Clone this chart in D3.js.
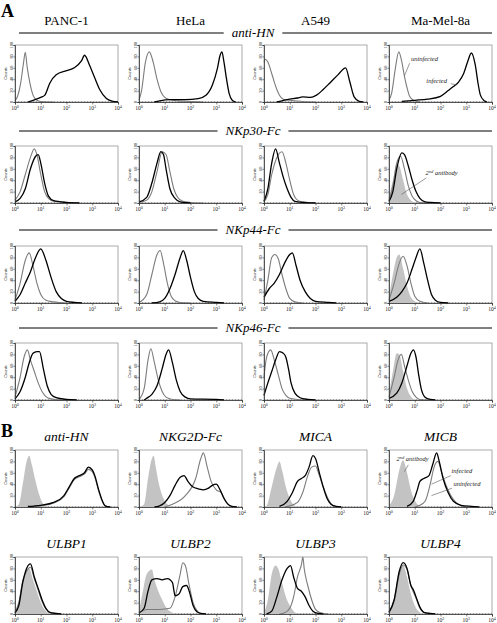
<!DOCTYPE html>
<html><head><meta charset="utf-8">
<script src="https://cdn.jsdelivr.net/npm/d3@7"></script>
<style>body{margin:0;background:#fff}svg{display:block}</style>
</head><body><svg id="c" width="497" height="623"></svg>
<script>
// ---------- labels ----------
const panelLetters = ["A", "B"];
const cellLines = ["PANC-1", "HeLa", "A549", "Ma-Mel-8a"];
const rowTitlesA = ["anti-HN", "NKp30-Fc", "NKp44-Fc", "NKp46-Fc"];
const titlesB1 = ["anti-HN", "NKG2D-Fc", "MICA", "MICB"];
const titlesB2 = ["ULBP1", "ULBP2", "ULBP3", "ULBP4"];
const yTicks = [0, 20, 40, 60, 80, 100];
const xTickExps = [0, 1, 2, 3, 4];

// ---------- data: [log10 fluorescence, counts] ----------
// Panel A, row 1: anti-HN
const antiHN_uninf = [
  [[0,2],[0.1,10],[0.22,33],[0.32,65],[0.4,87],[0.47,62],[0.58,33],[0.7,12],[0.85,3],[1.0,1],[1.5,0]],
  [[0,3],[0.1,20],[0.25,70],[0.4,88],[0.55,70],[0.7,40],[0.85,18],[1.0,8],[1.2,4],[1.5,2],[2,1],[2.5,0]],
  [[0,70],[0.05,75],[0.15,70],[0.3,50],[0.4,35],[0.5,22],[0.6,12],[0.75,5],[1.0,3],[1.5,1],[2,0]],
  [[0,3],[0.1,15],[0.25,60],[0.38,88],[0.5,70],[0.6,45],[0.7,25],[0.8,10],[0.95,3],[1.2,0]]
];
const antiHN_inf = [
  [[0.5,0],[0.7,3],[1.0,8],[1.16,12],[1.35,33],[1.6,48],[2.0,55],[2.3,60],[2.58,72],[2.7,82],[2.9,64],[3.1,42],[3.3,21],[3.55,6],[3.8,1],[4,0]],
  [[0.6,0],[0.8,2],[1.2,4],[1.8,4],[2.3,6],[2.6,12],[2.85,30],[3.05,60],[3.15,82],[3.22,88],[3.3,70],[3.4,40],[3.5,15],[3.62,3],[3.75,0]],
  [[0.5,0],[1.0,5],[1.3,7],[1.5,9],[1.8,8],[2.04,12],[2.3,22],[2.55,33],[2.88,48],[3.17,60],[3.33,36],[3.5,9],[3.7,1],[3.85,0]],
  [[0.5,1],[1.0,3],[1.5,5],[2.0,10],[2.3,20],[2.5,27],[2.7,35],[2.9,50],[3.05,70],[3.2,86],[3.35,65],[3.45,35],[3.55,12],[3.7,2],[3.8,0]]
];
const antiHN_2nd = [null, null, null, null];

// Panel A, row 2: NKp30-Fc
const nkp30_uninf = [
  [[0,5],[0.2,20],[0.4,50],[0.6,80],[0.75,95],[0.85,85],[1.0,50],[1.15,20],[1.3,8],[1.5,3],[2.0,1],[2.5,0]],
  [[0,1],[0.3,5],[0.5,20],[0.7,55],[0.9,90],[1.05,85],[1.2,55],[1.35,25],[1.5,10],[1.7,3],[2,1],[2.5,0]],
  [[0,2],[0.15,15],[0.3,50],[0.5,80],[0.7,90],[0.85,70],[1.0,40],[1.15,15],[1.3,5],[1.5,2],[2,0]],
  [[0,5],[0.15,30],[0.3,70],[0.45,82],[0.6,60],[0.75,30],[0.9,12],[1.05,4],[1.2,1],[1.5,0]]
];
const nkp30_inf = [
  [[0,2],[0.2,8],[0.4,25],[0.6,60],[0.8,82],[0.9,85],[1.0,70],[1.15,35],[1.3,12],[1.5,4],[2.0,1],[2.5,0]],
  [[0,2],[0.3,10],[0.5,35],[0.7,70],[0.85,90],[0.95,85],[1.05,60],[1.2,25],[1.4,8],[1.6,2],[2,0]],
  [[0,3],[0.15,25],[0.3,70],[0.45,95],[0.6,70],[0.75,45],[0.9,25],[1.05,10],[1.2,3],[1.5,1],[2,0]],
  [[0,3],[0.15,20],[0.3,60],[0.5,88],[0.6,85],[0.75,65],[0.9,40],[1.05,20],[1.2,8],[1.4,2],[1.6,1],[2,0]]
];
const nkp30_2nd = [null, null, null,
  [[0,10],[0.15,40],[0.3,68],[0.4,65],[0.55,40],[0.7,15],[0.85,5],[1.0,1],[1.2,0]]
];

// Panel A, row 3: NKp44-Fc
const nkp44_uninf = [
  [[0,5],[0.2,35],[0.4,75],[0.55,88],[0.7,65],[0.85,35],[1.0,15],[1.2,5],[1.5,2],[2,0]],
  [[0,1],[0.3,15],[0.5,50],[0.7,85],[0.82,92],[0.95,70],[1.1,35],[1.25,12],[1.4,4],[1.6,1],[2,0]],
  [[0,5],[0.15,40],[0.3,80],[0.42,85],[0.55,78],[0.7,50],[0.85,25],[1.0,8],[1.2,2],[1.5,0]],
  [[0,5],[0.2,35],[0.4,70],[0.55,82],[0.7,65],[0.85,35],[1.0,12],[1.2,3],[1.5,0]]
];
const nkp44_inf = [
  [[0,3],[0.2,15],[0.4,35],[0.6,55],[0.8,80],[1.0,95],[1.2,75],[1.4,45],[1.6,20],[1.8,8],[2.0,3],[2.3,1],[2.6,0]],
  [[0.5,0],[0.8,2],[1.0,8],[1.2,25],[1.4,50],[1.6,80],[1.72,92],[1.85,75],[2.0,45],[2.15,20],[2.3,8],[2.5,3],[3.0,1],[3.3,0]],
  [[0,10],[0.2,25],[0.4,35],[0.6,50],[0.8,70],[1.0,85],[1.1,88],[1.25,65],[1.4,40],[1.6,20],[1.8,8],[2.0,3],[2.5,1],[2.8,0]],
  [[0,3],[0.3,10],[0.5,20],[0.7,35],[0.9,60],[1.05,80],[1.2,95],[1.35,70],[1.5,40],[1.65,15],[1.8,5],[2.0,1],[2.3,0]]
];
const nkp44_2nd = [null, null, null,
  [[0,10],[0.15,50],[0.3,80],[0.4,85],[0.55,60],[0.7,30],[0.85,10],[1.0,3],[1.2,0]]
];

// Panel A, row 4: NKp46-Fc
const nkp46_uninf = [
  [[0,5],[0.2,40],[0.35,75],[0.48,88],[0.6,70],[0.75,50],[0.9,30],[1.05,15],[1.2,6],[1.4,2],[1.8,0]],
  [[0,1],[0.2,20],[0.35,70],[0.46,90],[0.6,65],[0.75,35],[0.9,15],[1.05,5],[1.3,1],[1.6,0]],
  [[0,40],[0.1,75],[0.26,88],[0.4,70],[0.55,45],[0.7,20],[0.85,8],[1.0,3],[1.3,1],[1.6,0]],
  [[0,5],[0.2,40],[0.35,70],[0.48,80],[0.6,60],[0.75,35],[0.9,15],[1.05,5],[1.2,1],[1.5,0]]
];
const nkp46_inf = [
  [[0,2],[0.2,15],[0.4,40],[0.55,65],[0.7,82],[0.85,85],[0.95,85],[1.1,55],[1.25,25],[1.4,10],[1.6,4],[2.0,1],[2.4,0]],
  [[0.2,0],[0.3,3],[0.5,10],[0.7,25],[0.9,55],[1.05,80],[1.15,88],[1.3,65],[1.45,35],[1.6,15],[1.8,5],[2.0,2],[3,1],[3.3,0]],
  [[0,8],[0.15,30],[0.3,50],[0.45,70],[0.6,85],[0.75,82],[0.85,75],[0.95,55],[1.05,30],[1.2,12],[1.4,4],[1.7,1],[2,0]],
  [[0,3],[0.3,12],[0.5,30],[0.7,60],[0.85,82],[0.95,88],[1.05,75],[1.15,45],[1.25,20],[1.4,5],[1.6,1],[1.8,0]]
];
const nkp46_2nd = [null, null, null,
  [[0,10],[0.15,50],[0.3,82],[0.4,80],[0.55,50],[0.7,20],[0.85,6],[1.0,1],[1.2,0]]
];

// Panel B, row 1: anti-HN, NKG2D-Fc, MICA, MICB
const b1_uninf = [
  [[0.5,0],[1.0,2],[1.5,7],[1.9,18],[2.1,33],[2.3,48],[2.5,53],[2.7,58],[2.85,66],[3.0,62],[3.1,52],[3.25,28],[3.4,9],[3.5,2],[3.7,0]],
  [[1.0,0],[1.3,5],[1.8,20],[2.2,50],[2.4,85],[2.5,95],[2.65,70],[2.8,45],[3.0,30],[3.2,25],[3.35,12],[3.5,3],[3.7,0]],
  [[0.8,0],[1.0,2],[1.3,8],[1.5,25],[1.7,55],[1.85,70],[2.0,72],[2.15,55],[2.3,35],[2.45,18],[2.6,6],[2.8,1],[3,0]],
  [[1.0,0],[1.2,3],[1.4,10],[1.6,40],[1.75,70],[1.9,80],[2.05,60],[2.2,40],[2.4,20],[2.6,8],[2.8,2],[3,0]]
];
const b1_inf = [
  [[0.5,1],[1.0,3],[1.5,8],[1.9,20],[2.1,35],[2.3,50],[2.5,55],[2.7,60],[2.85,70],[3.0,65],[3.1,55],[3.25,30],[3.4,10],[3.5,2],[3.7,0]],
  [[0.6,0],[0.8,2],[1.0,8],[1.2,20],[1.4,38],[1.6,52],[1.75,55],[1.9,45],[2.1,35],[2.3,32],[2.5,30],[2.7,33],[2.85,38],[3.0,40],[3.15,30],[3.3,15],[3.45,5],[3.6,1],[3.8,0]],
  [[0.6,1],[0.9,10],[1.1,25],[1.3,45],[1.45,50],[1.6,55],[1.75,70],[1.9,90],[2.0,85],[2.15,60],[2.3,35],[2.45,15],[2.6,5],[2.8,1],[3,0]],
  [[0.7,1],[0.94,10],[1.1,30],[1.2,45],[1.35,50],[1.55,55],[1.7,75],[1.85,95],[1.95,80],[2.1,50],[2.3,25],[2.5,10],[2.8,3],[3.2,1],[3.5,0]]
];
const b1_2nd = [
  [[0,0],[0.15,5],[0.3,40],[0.45,80],[0.55,90],[0.65,75],[0.8,45],[0.95,20],[1.1,5],[1.25,1],[1.4,0]],
  [[0,0],[0.2,5],[0.35,50],[0.5,85],[0.57,90],[0.65,70],[0.8,35],[0.95,15],[1.1,5],[1.3,1],[1.4,0]],
  [[0,0],[0.1,2],[0.3,35],[0.5,70],[0.6,80],[0.7,65],[0.85,35],[1.0,15],[1.15,4],[1.3,1],[1.4,0]],
  [[0,2],[0.2,20],[0.4,65],[0.55,82],[0.7,60],[0.85,30],[1.0,12],[1.15,3],[1.3,1],[1.4,0]]
];

// Panel B, row 2: ULBP1-4
const b2_uninf = [
  [[0,3],[0.15,20],[0.3,58],[0.45,75],[0.6,82],[0.75,62],[0.9,42],[1.05,22],[1.2,9],[1.4,2],[1.7,0]],
  [[0,2],[0.3,8],[0.8,8],[1.2,10],[1.4,30],[1.6,70],[1.7,90],[1.8,85],[1.95,50],[2.1,20],[2.25,6],[2.4,1],[2.6,0]],
  [[0.6,0],[0.8,2],[1.0,10],[1.15,30],[1.3,65],[1.46,88],[1.51,100],[1.56,80],[1.7,50],[1.85,25],[2.0,8],[2.2,2],[2.5,0]],
  [[0,3],[0.2,22],[0.4,70],[0.55,86],[0.7,78],[0.85,50],[0.95,38],[1.05,28],[1.2,10],[1.35,3],[1.6,0]]
];
const b2_inf = [
  [[0,2],[0.15,15],[0.3,55],[0.45,80],[0.6,88],[0.75,65],[0.9,45],[1.05,25],[1.2,10],[1.35,3],[1.6,1],[1.8,0]],
  [[0,2],[0.2,10],[0.35,40],[0.5,60],[0.7,62],[0.9,60],[1.1,62],[1.3,55],[1.4,32],[1.55,35],[1.7,48],[1.85,50],[1.95,40],[2.1,15],[2.25,4],[2.4,1],[2.6,0]],
  [[0.1,0],[0.3,5],[0.5,30],[0.7,60],[0.9,80],[1.03,85],[1.15,65],[1.3,45],[1.45,40],[1.6,30],[1.75,15],[1.9,5],[2.1,1],[2.3,0]],
  [[0,3],[0.2,25],[0.4,75],[0.55,90],[0.7,80],[0.85,50],[0.95,42],[1.05,30],[1.2,12],[1.35,3],[1.6,1],[1.8,0]]
];
const b2_2nd = [
  [[0,3],[0.15,25],[0.3,60],[0.45,78],[0.55,80],[0.7,60],[0.85,40],[1.0,20],[1.15,8],[1.3,2],[1.5,0]],
  [[0,5],[0.15,40],[0.3,70],[0.5,78],[0.6,60],[0.75,40],[0.9,25],[1.05,12],[1.2,5],[1.4,1],[1.6,0]],
  [[0,3],[0.15,25],[0.3,70],[0.45,85],[0.55,80],[0.7,55],[0.85,30],[1.0,15],[1.15,5],[1.3,1],[1.5,0]],
  [[0,5],[0.2,30],[0.4,78],[0.55,85],[0.7,65],[0.85,35],[1.0,15],[1.15,5],[1.3,1],[1.5,0]]
];

// annotations (data coordinates of the panel they sit in)
const notes = [
  {row: 0, col: 3, parts: [["uninfected"]], text: [0.85, 72], from: [0.8, 68], to: [0.6, 46]},
  {row: 0, col: 3, parts: [["infected"]], text: [1.45, 33], from: [2.4, 32], to: [2.65, 30]},
  {row: 1, col: 3, parts: [["2"], ["nd", true], [" antibody"]], text: [1.42, 50], from: [1.45, 44], to: [0.48, 15]},
  {row: 4, col: 3, parts: [["2"], ["nd", true], [" antibody"]], text: [0.29, 80], from: [0.75, 74], to: [0.6, 62]},
  {row: 4, col: 3, parts: [["infected"]], text: [2.43, 59], from: [2.4, 55], to: [1.65, 40]},
  {row: 4, col: 3, parts: [["uninfected"]], text: [2.5, 36], from: [2.45, 33], to: [1.65, 20]}
];

// ---------- layout ----------
const svg = d3.select("#c");
const colX = [15, 139, 264, 389];
const PW = 103, PH = 57;
const rowTop = [45, 146, 246, 343, 450, 557];
const lineYA = [33, 131, 230, 328];
const serif = "'Liberation Serif','Times New Roman',serif";

const rows = [
  [antiHN_uninf, antiHN_inf, antiHN_2nd],
  [nkp30_uninf, nkp30_inf, nkp30_2nd],
  [nkp44_uninf, nkp44_inf, nkp44_2nd],
  [nkp46_uninf, nkp46_inf, nkp46_2nd],
  [b1_uninf, b1_inf, b1_2nd],
  [b2_uninf, b2_inf, b2_2nd]
];

const x = d3.scaleLog().domain([1, 1e4]).range([0, PW]);
const y = d3.scaleLinear().domain([0, 100]).range([PH, 0]);
const fx = d => x(Math.pow(10, d[0]));
const fy = d => y(d[1]);
const lineGen = d3.line().x(fx).y(fy).curve(d3.curveMonotoneX);
const areaGen = d3.area().x(fx).y0(y(0)).y1(fy).curve(d3.curveMonotoneX);
const minorTicks = [];
for (let e = 0; e < 4; e++) for (let m = 1; m < 10; m++) minorTicks.push(m * Math.pow(10, e));
minorTicks.push(1e4);

rows.forEach((r, ri) => {
  const [uninf, inf, sec] = r;
  for (let ci = 0; ci < 4; ci++) {
    const g = svg.append("g").attr("transform", `translate(${colX[ci]},${rowTop[ri]})`);
    g.append("rect").attr("width", PW).attr("height", PH)
      .attr("fill", "none").attr("stroke", "#888").attr("stroke-width", 0.7);
    g.append("line").attr("x1", 0).attr("x2", PW).attr("y1", y(0)).attr("y2", y(0))
      .attr("stroke", "#555").attr("stroke-width", 0.8).attr("stroke-dasharray", "1,2");
    if (sec[ci]) g.append("path").datum(sec[ci]).attr("d", areaGen).attr("fill", "#c3c3c3");
    g.append("path").datum(uninf[ci]).attr("d", lineGen)
      .attr("fill", "none").attr("stroke", "#7c7c7c").attr("stroke-width", 1.1);
    g.append("path").datum(inf[ci]).attr("d", lineGen)
      .attr("fill", "none").attr("stroke", "#000").attr("stroke-width", 1.3);

    // x axis
    const ax = g.append("g").attr("transform", `translate(0,${PH})`);
    ax.call(d3.axisBottom(x).tickValues(minorTicks).tickSize(1.3).tickFormat(""));
    ax.call(d3.axisBottom(x).tickValues(xTickExps.map(e => Math.pow(10, e))).tickSize(2.5).tickFormat(""));
    ax.selectAll(".domain").attr("stroke", "#333").attr("stroke-width", 0.8);
    ax.selectAll(".tick line").attr("stroke", "#333").attr("stroke-width", 0.6);
    xTickExps.forEach(e => {
      const t = g.append("text").attr("x", x(Math.pow(10, e))).attr("y", PH + 8)
        .attr("text-anchor", "middle").attr("font-family", serif).attr("font-size", 5.5).attr("fill", "#222");
      t.append("tspan").text("10");
      t.append("tspan").attr("dy", -2).attr("font-size", 4).text(e);
    });
    // y axis
    const ay = g.append("g");
    ay.call(d3.axisLeft(y).tickValues(yTicks).tickSize(1.5).tickFormat(""));
    ay.selectAll(".domain").attr("stroke", "#333").attr("stroke-width", 0.8);
    ay.selectAll(".tick line").attr("stroke", "#333").attr("stroke-width", 0.6);
    yTicks.forEach(v => {
      g.append("text").attr("transform", `translate(-2.2,${y(v)}) rotate(-90)`)
        .attr("text-anchor", "middle").attr("font-family", serif).attr("font-size", 4.2).attr("fill", "#222").text(v);
    });
    g.append("text").attr("transform", `translate(-7.8,${PH / 2}) rotate(-90)`)
      .attr("text-anchor", "middle").attr("font-family", "'Liberation Sans',Arial,sans-serif")
      .attr("font-size", 4).attr("fill", "#222").text("Counts");
  }
});

// column titles (A)
cellLines.forEach((t, i) => {
  svg.append("text").attr("x", colX[i] + PW / 2).attr("y", 25).attr("text-anchor", "middle")
    .attr("font-family", serif).attr("font-size", 13).text(t);
});
// row titles with rules (A)
rowTitlesA.forEach((t, i) => {
  const cx = 253;
  const tx = svg.append("text").attr("x", cx).attr("y", lineYA[i] + 4).attr("text-anchor", "middle")
    .attr("font-family", serif).attr("font-style", "italic").attr("font-size", 13).text(t);
  const w = tx.node().getComputedTextLength();
  svg.append("line").attr("x1", 19).attr("x2", cx - w / 2 - 8).attr("y1", lineYA[i]).attr("y2", lineYA[i])
    .attr("stroke", "#000").attr("stroke-width", 1);
  svg.append("line").attr("x1", cx + w / 2 + 8).attr("x2", 492).attr("y1", lineYA[i]).attr("y2", lineYA[i])
    .attr("stroke", "#000").attr("stroke-width", 1);
});
// B titles
[titlesB1, titlesB2].forEach((arr, k) => {
  arr.forEach((t, i) => {
    svg.append("text").attr("x", colX[i] + PW / 2).attr("y", rowTop[4 + k] - 9).attr("text-anchor", "middle")
      .attr("font-family", serif).attr("font-style", "italic").attr("font-size", 13.5).text(t);
  });
});
// panel letters
svg.append("text").attr("x", 1).attr("y", 17).attr("font-family", serif).attr("font-weight", "bold")
  .attr("font-size", 18).text(panelLetters[0]);
svg.append("text").attr("x", 1).attr("y", 437).attr("font-family", serif).attr("font-weight", "bold")
  .attr("font-size", 18).text(panelLetters[1]);

// annotations
notes.forEach(n => {
  const g = svg.append("g").attr("transform", `translate(${colX[n.col]},${rowTop[n.row]})`);
  g.append("line").attr("x1", fx(n.from)).attr("y1", fy(n.from)).attr("x2", fx(n.to)).attr("y2", fy(n.to))
    .attr("stroke", "#555").attr("stroke-width", 0.6);
  const t = g.append("text").attr("x", fx(n.text)).attr("y", fy(n.text)).attr("font-family", serif)
    .attr("font-style", "italic").attr("font-size", 6.5).attr("fill", "#222");
  n.parts.forEach((p, i) => {
    if (p[1]) t.append("tspan").attr("dy", -2).attr("font-size", 4.5).text(p[0]);
    else t.append("tspan").attr("dy", i > 0 ? 2 : 0).text(p[0]);
  });
});
</script></body></html>
